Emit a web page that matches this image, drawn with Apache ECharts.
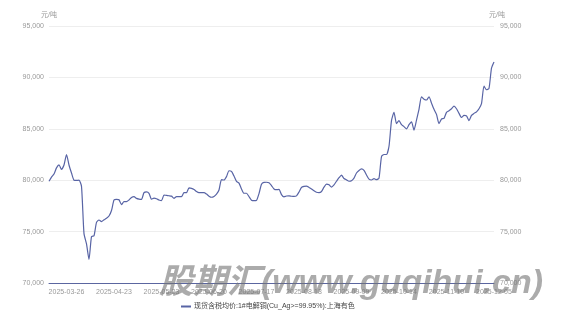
<!DOCTYPE html>
<html>
<head>
<meta charset="utf-8">
<script src="https://cdn.jsdelivr.net/npm/echarts@6/dist/echarts.min.js"></script>
<style>
html,body{margin:0;padding:0;background:#fff;}
#chart{width:563px;height:318px;}
</style>
</head>
<body>
<div id="chart"></div>
<script>
const dates = [
"2025-03-17","2025-03-18","2025-03-19","2025-03-20","2025-03-21","2025-03-24","2025-03-25","2025-03-26","2025-03-27","2025-03-28","2025-03-31",
"2025-04-01","2025-04-02","2025-04-03","2025-04-07","2025-04-08","2025-04-09","2025-04-10","2025-04-11","2025-04-14","2025-04-15","2025-04-16","2025-04-17","2025-04-18","2025-04-21","2025-04-22","2025-04-23","2025-04-24","2025-04-25","2025-04-28","2025-04-29","2025-04-30",
"2025-05-06","2025-05-07","2025-05-08","2025-05-09","2025-05-12","2025-05-13","2025-05-14","2025-05-15","2025-05-16","2025-05-19","2025-05-20","2025-05-21","2025-05-22","2025-05-23","2025-05-26","2025-05-27","2025-05-28","2025-05-29","2025-05-30",
"2025-06-03","2025-06-04","2025-06-05","2025-06-06","2025-06-09","2025-06-10","2025-06-11","2025-06-12","2025-06-13","2025-06-16","2025-06-17","2025-06-18","2025-06-19","2025-06-20","2025-06-23","2025-06-24","2025-06-25","2025-06-26","2025-06-27","2025-06-30",
"2025-07-01","2025-07-02","2025-07-03","2025-07-04","2025-07-07","2025-07-08","2025-07-09","2025-07-10","2025-07-11","2025-07-14","2025-07-15","2025-07-16","2025-07-17","2025-07-18","2025-07-21","2025-07-22","2025-07-23","2025-07-24","2025-07-25","2025-07-28","2025-07-29","2025-07-30","2025-07-31",
"2025-08-01","2025-08-04","2025-08-05","2025-08-06","2025-08-07","2025-08-08","2025-08-11","2025-08-12","2025-08-13","2025-08-14","2025-08-15","2025-08-18","2025-08-19","2025-08-20","2025-08-21","2025-08-22","2025-08-25","2025-08-26","2025-08-27","2025-08-28","2025-08-29",
"2025-09-01","2025-09-02","2025-09-03","2025-09-04","2025-09-05","2025-09-08","2025-09-09","2025-09-10","2025-09-11","2025-09-12","2025-09-15","2025-09-16","2025-09-17","2025-09-18","2025-09-19","2025-09-22","2025-09-23","2025-09-24","2025-09-25","2025-09-26","2025-09-29","2025-09-30",
"2025-10-09","2025-10-10","2025-10-13","2025-10-14","2025-10-15","2025-10-16","2025-10-17","2025-10-20","2025-10-21","2025-10-22","2025-10-23","2025-10-24","2025-10-27","2025-10-28","2025-10-29","2025-10-30","2025-10-31",
"2025-11-03","2025-11-04","2025-11-05","2025-11-06","2025-11-07","2025-11-10","2025-11-11","2025-11-12","2025-11-13","2025-11-14","2025-11-17","2025-11-18","2025-11-19","2025-11-20","2025-11-21","2025-11-24","2025-11-25","2025-11-26","2025-11-27","2025-11-28",
"2025-12-01","2025-12-02","2025-12-03","2025-12-04","2025-12-05"
];

const prices = [
79900,80300,80600,81200,81500,81050,81480,82500,81480,80700,80000,
79980,80000,79400,74800,73800,72300,74500,74600,75900,76130,75970,76150,76300,76520,77050,78070,78140,78100,77620,77910,
77910,78080,78320,78400,78230,78160,78140,78790,78860,78720,78150,78250,78200,78070,78010,78560,78520,78490,78450,78240,
78400,78400,78400,78790,78790,79250,79210,79100,78900,78790,78790,78790,78650,78450,78340,78420,78640,79050,80050,80020,
80350,80920,80850,80400,79880,79720,79150,78730,78730,78400,78050,78010,78040,78700,79600,79790,79800,79750,79480,79150,79080,79100,
78600,78380,78460,78470,78440,78420,78480,78850,79300,79400,79430,79300,79150,78970,78830,78800,78900,79320,79610,79550,79330,
79550,79900,80240,80490,80160,80030,79900,79950,80200,80700,80950,81100,80950,80500,80100,80020,80150,80050,80200,82300,82500,82500,
83300,85800,86600,85500,85800,85400,85210,85000,85400,85680,84880,85850,86900,88100,87880,87800,88120,
87500,86900,86400,85500,85950,86020,86600,86750,86950,87200,86950,86500,86100,86300,86250,85790,86300,86500,86650,86950,
87450,89150,88800,88940,90900,91500
];

const seriesName = "现货含税均价:1#电解铜(Cu_Ag>=99.95%):上海有色";
const unitName = "元/吨";
const yMin = 70000, yMax = 95000, yStep = 5000;
const firstLabelIndex = 7, labelEvery = 19;
const watermark = "股期汇(www.guqihui.cn)";

const chart = echarts.init(document.getElementById('chart'), null, {renderer: 'canvas'});
const font = "'Liberation Sans', 'Noto Sans CJK SC', sans-serif";
const yAxisCommon = {
  type: 'value', min: yMin, max: yMax, interval: yStep,
  name: unitName, nameGap: 7,
  nameTextStyle: {color: '#999', fontSize: 7, fontFamily: font},
  axisLine: {show: false}, axisTick: {show: false},
  axisLabel: {color: '#999', fontSize: 7, fontFamily: font,
    formatter: v => v.toLocaleString('en-US')},
  splitLine: {lineStyle: {color: '#eeeeee', width: 1}}
};
chart.setOption({
  animation: false,
  backgroundColor: '#fff',
  textStyle: {fontFamily: font},
  grid: {left: 49, right: 69, top: 26, bottom: 35, containLabel: false, outerBoundsMode: 'none'},
  legend: {
    show: true, left: 176, top: 298, icon: 'rect', itemWidth: 10, itemHeight: 2, itemGap: 4,
    textStyle: {color: '#444', fontSize: 7, fontFamily: font, padding: [0, 0, 0, -2]},
    data: [seriesName]
  },
  xAxis: {
    type: 'category', data: dates, boundaryGap: false,
    axisLine: {lineStyle: {color: '#5b66a0', width: 1}},
    axisTick: {show: false},
    axisLabel: {color: '#999', fontSize: 7, fontFamily: font, margin: 6,
      interval: (i) => i >= firstLabelIndex && (i - firstLabelIndex) % labelEvery === 0},
    splitLine: {show: false}
  },
  yAxis: [
    Object.assign({}, yAxisCommon, {position: 'left',
      axisLabel: Object.assign({}, yAxisCommon.axisLabel, {margin: 5})}),
    Object.assign({}, yAxisCommon, {position: 'right',
      nameTextStyle: Object.assign({}, yAxisCommon.nameTextStyle, {padding: [0, 0, 0, 6]}),
      axisLabel: Object.assign({}, yAxisCommon.axisLabel, {margin: 6})})
  ],
  series: [{
    name: seriesName, type: 'line', data: prices, yAxisIndex: 0,
    symbol: 'none', smooth: 0.2,
    lineStyle: {color: '#5864a5', width: 1.2},
    itemStyle: {color: '#5864a5'}
  }],
  graphic: [{
    type: 'text', left: 159, top: 267, z: 100, silent: true,
    style: {text: watermark, fontSize: 34, fontWeight: 'bold', fontStyle: 'italic',
      fontFamily: "'Liberation Sans', 'Noto Sans CJK SC', sans-serif",
      fill: 'rgba(115,115,115,0.6)'}
  }]
});
</script>
</body>
</html>
